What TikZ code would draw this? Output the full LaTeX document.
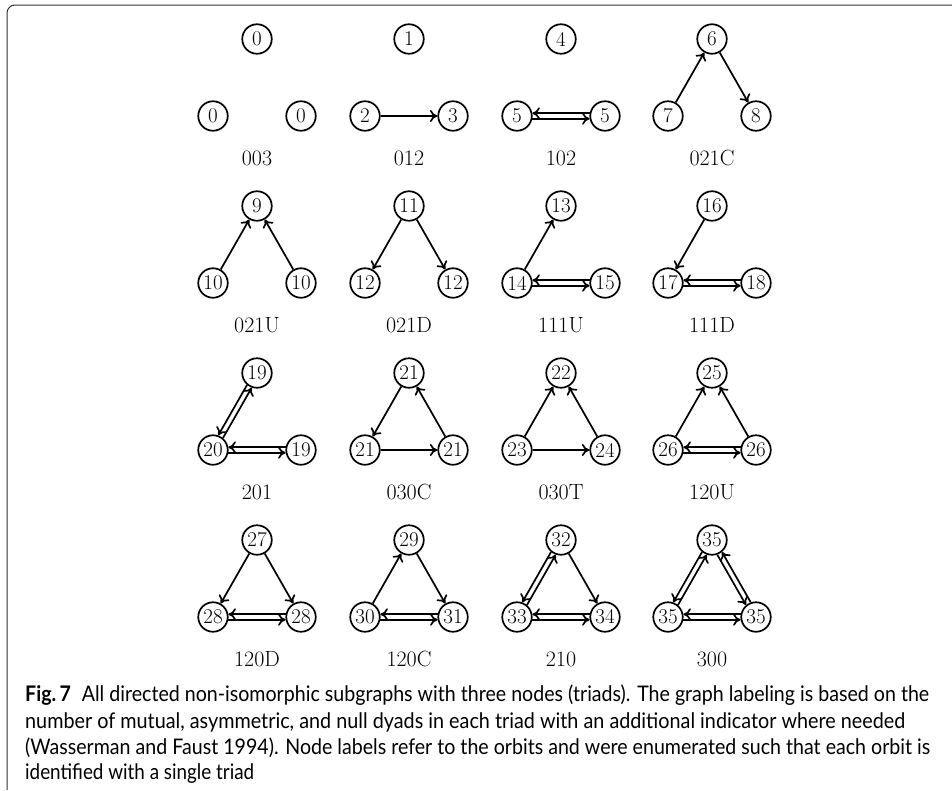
\documentclass[tikz,border=0pt]{standalone}
\usepackage{fontspec}
\newfontfamily\capfont{Lato}
\usetikzlibrary{arrows.meta,calc}
\newcommand\triad[7]{%
  \node[v] (#1t) at (#2,-#3) {#4};
  \node[v] (#1l) at ({#2-44},{-#3-77}) {#5};
  \node[v] (#1r) at ({#2+44},{-#3-77}) {#6};
  \node[lab] (#1n) at (#2,{-#3-119}) {#7};
}
\newcommand\dbl[2]{\draw[arr,shorten <=15.4pt,shorten >=15.4pt] ($(#1)!2.7pt!-90:(#2)$) -- ($(#2)!2.7pt!90:(#1)$);}
\newsavebox\fitbox
\newcommand\fitline[2]{\sbox\fitbox{#2}\pgfmathsetmacro\fitsx{#1/\wd\fitbox}\scalebox{\fitsx}[1]{\usebox\fitbox}}
\begin{document}
\begin{tikzpicture}[x=1pt,y=1pt,
  v/.style={circle,draw,line width=1.7pt,minimum size=29.5pt,inner sep=0pt,font=\fontsize{21}{24}\selectfont},
  lab/.style={font=\fontsize{22}{26}\selectfont},
  arr/.style={line width=1.7pt,-{To[length=7.5pt,width=12pt]}},
  capn/.style={anchor=base west,inner sep=0pt,font=\capfont\fontsize{21.5}{26}\selectfont},
]
\useasboundingbox (0,0) rectangle (952,-790);
\draw[line width=1pt, black!80, rounded corners=8pt] (7,-790) -- (7,-5) -- (952,-5);
% row 1
\triad{a}{257}{39}{0}{0}{0}{003}
\triad{b}{409}{39}{1}{2}{3}{012}
\draw[arr] (bl) -- (br);
\triad{c}{561}{39}{4}{5}{5}{102}
\dbl{cl}{cr}\dbl{cr}{cl}
\triad{d}{712}{39}{6}{7}{8}{021C}
\draw[arr] (dl) -- (dt); \draw[arr] (dt) -- (dr);
% row 2
\triad{e}{257}{206}{9}{10}{10}{021U}
\draw[arr] (el) -- (et); \draw[arr] (er) -- (et);
\triad{f}{409}{206}{11}{12}{12}{021D}
\draw[arr] (ft) -- (fl); \draw[arr] (ft) -- (fr);
\triad{g}{561}{206}{13}{14}{15}{111U}
\draw[arr] (gl) -- (gt); \dbl{gl}{gr}\dbl{gr}{gl}
\triad{h}{712}{206}{16}{17}{18}{111D}
\draw[arr] (ht) -- (hl); \dbl{hl}{hr}\dbl{hr}{hl}
% row 3
\triad{i}{257}{373}{19}{20}{19}{201}
\dbl{it}{il}\dbl{il}{it}\dbl{il}{ir}\dbl{ir}{il}
\triad{j}{409}{373}{21}{21}{21}{030C}
\draw[arr] (jt) -- (jl); \draw[arr] (jl) -- (jr); \draw[arr] (jr) -- (jt);
\triad{k}{561}{373}{22}{23}{24}{030T}
\draw[arr] (kl) -- (kt); \draw[arr] (kr) -- (kt); \draw[arr] (kl) -- (kr);
\triad{m}{712}{373}{25}{26}{26}{120U}
\draw[arr] (ml) -- (mt); \draw[arr] (mr) -- (mt); \dbl{ml}{mr}\dbl{mr}{ml}
% row 4
\triad{n}{257}{540}{27}{28}{28}{120D}
\draw[arr] (nt) -- (nl); \draw[arr] (nt) -- (nr); \dbl{nl}{nr}\dbl{nr}{nl}
\triad{o}{409}{540}{29}{30}{31}{120C}
\draw[arr] (ol) -- (ot); \draw[arr] (ot) -- (or); \dbl{ol}{or}\dbl{or}{ol}
\triad{p}{561}{540}{32}{33}{34}{210}
\dbl{pt}{pl}\dbl{pl}{pt}\draw[arr] (pt) -- (pr); \dbl{pl}{pr}\dbl{pr}{pl}
\triad{q}{712}{540}{35}{35}{35}{300}
\dbl{qt}{ql}\dbl{ql}{qt}\dbl{qt}{qr}\dbl{qr}{qt}\dbl{ql}{qr}\dbl{qr}{ql}
% caption
\node[capn] (c1) at (25,-701) {\fitline{904}{{\bfseries Fig.\,7}\hspace{0.3em} All directed non-isomorphic subgraphs with three nodes (triads). The graph labeling is based on the}};
\node[capn] (c2) at (25,-728) {\fitline{880}{number of mutual, asymmetric, and null dyads in each triad with an additional indicator where needed}};
\node[capn] (c3) at (25,-754) {\fitline{905}{(Wasserman and Faust 1994). Node labels refer to the orbits and were enumerated such that each orbit is}};
\node[capn] (c4) at (25,-779) {\fitline{229}{identified with a single triad}};
\end{tikzpicture}
\end{document}
